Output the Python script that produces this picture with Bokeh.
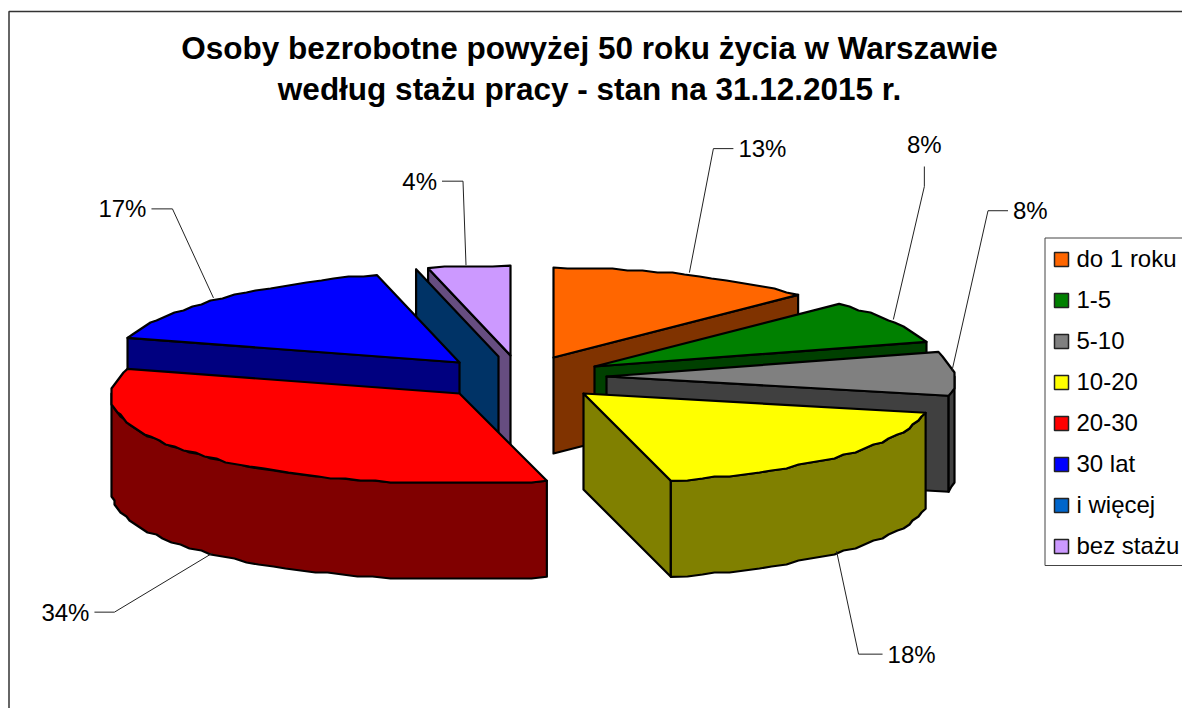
import math
from bokeh.plotting import figure
from bokeh.models import Range1d
from bokeh.core.properties import value
from bokeh.embed import file_html
from bokeh.resources import INLINE

# --- data
categories = ["do 1 roku", "1-5", "5-10", "10-20", "20-30", "30 lat", "i więcej", "bez stażu"]
shares = [13, 8, 8, 18, 34, 17, 0, 4]
top_colors = ["#FF6600", "#008000", "#808080", "#FFFF00", "#FF0000", "#0000FF", "#0066CC", "#CC99FF"]
side_colors = ["#803300", "#004000", "#404040", "#808000", "#800000", "#000080", "#003366", "#664D80"]
title_lines = ["Osoby bezrobotne powyżej 50 roku życia w Warszawie",
               "według stażu pracy - stan na 31.12.2015 r."]

# --- layout of the exploded 3-D pie (page pixels)
APEX = [(553, 357), (594, 366), (606, 376), (583, 393), (459, 393), (459, 362), (498, 356), (510, 355)]
RX, RY, DEPTH, PERSP = 348, 90, 96, 0.03
NUDGE = [(4, -2), (2, -2), (-2, -3), (-2, -1), (8, 1), (-9, 0), (0, 0), (-3, -1)]
ELBOW = [(24, -124), (31, -133), (36, -160), (22, 103), (-98, 59), (-41, -89), (0, 0), (-3, -84)]
STUB = [(20, "left"), (0, "up"), (20, "left"), (24, "left"), (-20, "right"), (-21, "right"), (0, ""), (-21, "right")]

FONT = "Liberation Sans"
p = figure(width=1182, height=708, x_range=Range1d(0, 1182), y_range=Range1d(708, 0),
           output_backend="svg", toolbar_location=None, min_border=0,
           x_axis_type=None, y_axis_type=None, outline_line_color=None,
           background_fill_color="white", border_fill_color="white")
p.grid.visible = False

# chart border
p.line([8.5, 8.5, 1182], [708, 11, 11], line_color="#333333", line_width=1.5)

for line, y in zip(title_lines, [47, 88]):
    p.text([589], [y], text=[line], text_font=value(FONT), text_font_style="bold",
           text_font_size="31.5px", text_align="center", text_baseline="middle", text_color="black")


def rim(i, th):
    t = math.radians(th)
    s, c = math.sin(t), math.cos(t)
    k = 1 - PERSP * c
    return APEX[i][0] + RX * s * k, APEX[i][1] - RY * c


total = sum(shares)
bounds = [0.0]
for v in shares:
    bounds.append(bounds[-1] + 360.0 * v / total)


def arc(i, a, b):
    """Rim as a pixel-snapped polygon, which gives the slightly stepped outline of the original."""
    n = max(2, int(abs(b - a) / 2.5) + 1)
    pts = [rim(i, a + (b - a) * j / (n - 1)) for j in range(n)]
    out = [pts[0]]
    for x, y in pts[1:-1]:
        out.append((round(x / 3) * 3, round(y / 2) * 2))
    out.append(pts[-1])
    return out


def patch(pts, color):
    p.patch([q[0] for q in pts], [q[1] for q in pts], fill_color=color,
            line_color="black", line_width=2.2, line_join="round")


def wall(i, edge):
    ax, ay = APEX[i]
    ex, ey = rim(i, edge)
    patch([(ax, ay), (ex, ey), (ex, ey + DEPTH), (ax, ay + DEPTH)], side_colors[i])


for i in [7, 6, 5, 4, 0, 1, 2, 3]:
    a, b = bounds[i], bounds[i + 1]
    if math.sin(math.radians(a)) < -1e-6:
        wall(i, a)
    if math.sin(math.radians(b)) > 1e-6:
        wall(i, b)
    lo, hi = max(a, 90), min(b, 270)
    if hi > lo:
        top = arc(i, lo, hi)
        patch(top + [(x, y + DEPTH) for x, y in reversed(top)], side_colors[i])
    if b > a:
        patch([APEX[i]] + arc(i, a, b), top_colors[i])

# leaders and percentage labels
for i, v in enumerate(shares):
    if v == 0:
        continue
    mid = (bounds[i] + bounds[i + 1]) / 2
    x, y = rim(i, mid)
    if 90 < mid < 270:
        y += DEPTH
    x += NUDGE[i][0]
    y += NUDGE[i][1]
    ex, ey = x + ELBOW[i][0], y + ELBOW[i][1]
    d, kind = STUB[i]
    if kind == "up":
        xs, ys = [x, ex, ex], [y, ey, ey - 20]
        tx, ty, al = ex, ey - 42, "center"
    else:
        xs, ys = [x, ex, ex + d], [y, ey, ey]
        tx, ty, al = ex + d + (5 if d > 0 else -5), ey, ("left" if d > 0 else "right")
    p.line(xs, ys, line_color="#222222", line_width=1)
    p.text([tx], [ty], text=[f"{v}%"], text_font=value(FONT), text_font_size="24px",
           text_align=al, text_baseline="middle", text_color="black")

# legend box (runs past the right edge of the page, as in the reference)
p.line([1182, 1044.5, 1044.5, 1182], [237.5, 237.5, 565, 565], line_color="#444444", line_width=1)
for k, (name, col) in enumerate(zip(categories, top_colors)):
    yy = 259 + k * 41
    p.rect([1061], [yy], width=14, height=14, fill_color=col, line_color="#222222", line_width=1.5)
    p.text([1076], [yy - 1.5], text=[name], text_font=value(FONT), text_font_size="24px",
           text_align="left", text_baseline="middle", text_color="black")

open("out.html", "w").write(file_html(p, INLINE))
